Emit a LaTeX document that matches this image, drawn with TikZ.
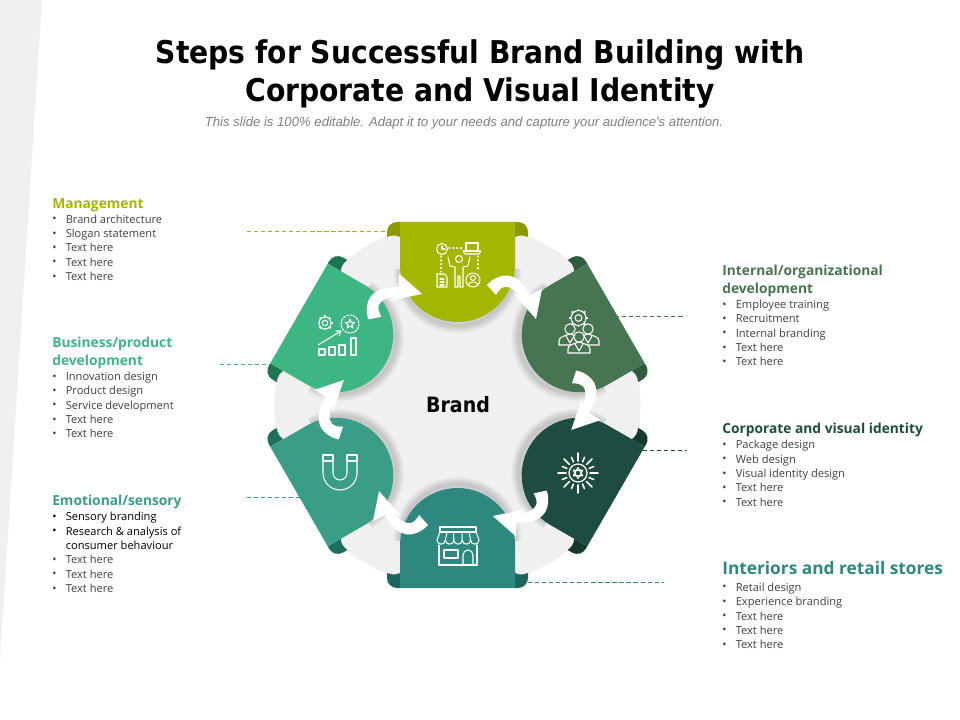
\documentclass[tikz,border=0pt]{standalone}
\usepackage{fontspec}
\setmainfont{Open Sans}
\newfontfamily\titlefont{DejaVu Sans Condensed Bold}
\newfontfamily\subfont{Liberation Sans}
\usetikzlibrary{positioning}
\definecolor{limeMain}{HTML}{A3B600}
\definecolor{limeDark}{HTML}{8A9A00}
\definecolor{greenMain}{HTML}{3DB683}
\definecolor{greenDark}{HTML}{1F7453}
\definecolor{seaMain}{HTML}{3A9E87}
\definecolor{seaDark}{HTML}{1F6F5C}
\definecolor{tealMain}{HTML}{2E8880}
\definecolor{tealDark}{HTML}{1D6660}
\definecolor{pineMain}{HTML}{1F4C40}
\definecolor{pineDark}{HTML}{16392F}
\definecolor{mossMain}{HTML}{477551}
\definecolor{mossDark}{HTML}{2F5B3D}
\definecolor{ringgray}{HTML}{F0F0F0}
\definecolor{bodygray}{HTML}{404040}
\newcommand{\bitem}[1]{\makebox[9.6pt][l]{\raisebox{.3pt}{\footnotesize\textbullet}}#1}
\newcommand{\gearicon}[3]{\begin{scope}[shift={(#1,#2)}]
\draw[iconline] (0,0) circle (#3);
\draw[iconline] (0,0) circle (#3*.45);
\foreach \a in {0,45,...,315}
\draw[iconline,line width=1.4pt,line cap=butt] (\a:#3) -- (\a:#3*1.25);
\end{scope}}
\newcommand{\personicon}[3]{\begin{scope}[shift={(#1,#2)}]
\draw[iconline,fill=#3] (-11,16) -- (-11,12) .. controls (-11,8) and (-6,7) .. (0,5) .. controls (6,7) and (11,8) .. (11,12) -- (11,16) -- cycle;
\draw[iconline,fill=#3] (0,0) circle (5.2);
\draw[iconline] (-4,7) -- (0,14) -- (4,7);
\end{scope}}
\tikzset{
iconline/.style={draw=white,line width=0.75pt,line cap=round,line join=round},
dotline/.style={iconline,dotted},
leadline/.style={dashed,line width=0.5pt,dash pattern=on 3pt off 2pt},
headtext/.style={anchor=north west,inner sep=0pt,align=left,font=\fontsize{9.8}{12.6}\selectfont\bfseries},
listtext/.style={anchor=north west,inner sep=0pt,align=left,text=bodygray,font=\fontsize{7.9}{10.2}\selectfont},
}
\begin{document}
\begin{tikzpicture}[x=0.025cm,y=-0.025cm]
\useasboundingbox (0,0) rectangle (960,720);
\fill[white] (0,0) rectangle (960,720);
\fill[ringgray] (0,0) -- (42,0) -- (0,660) -- cycle;
% title
\node[align=center,font=\fontsize{22.3}{27.6}\selectfont\titlefont] (title) at (480,74) {Steps for Successful Brand Building with\\Corporate and Visual Identity};
\node[font=\fontsize{9.35}{11}\selectfont\subfont\itshape,text=black!50] (subtitle) at (464,123) {This slide is 100\% editable. Adapt it to your needs and capture your audience's attention.};
% ring
\fill[ringgray] (457.5,405) circle (183);
% petals
\foreach \ang/\main/\dark in {0/limeMain/limeDark,-60/mossMain/mossDark,-120/pineMain/pineDark,180/tealMain/tealDark,120/seaMain/seaDark,60/greenMain/greenDark}{
\begin{scope}[rotate around={\ang:(457.5,405)}]
\foreach \w in {3,6,9,12,15}
\draw[black,opacity=.035,line width=\w*0.7pt] (514,269) arc (0:180:56.5);
\fill[\dark] (400,222) -- (397,222) arc (-90:-180:10) -- (387,237) .. controls (392,235) and (396,235) .. (400,237) -- cycle;
\fill[\dark] (515,222) -- (518,222) arc (-90:0:10) -- (528,237) .. controls (523,235) and (519,235) .. (515,237) -- cycle;
\fill[\main] (400,222) -- (515,222) -- (515,264.5) arc (0:180:57.5) -- cycle;
\end{scope}
}
% arrows
\foreach \ang in {0,-60,...,-300}{
\fill[white,rotate around={\ang:(457.5,405)}] (487,285) .. controls (493,278) and (503,274) .. (510,276) .. controls (519,278) and (525,286) .. (530,295) -- (542,289) -- (536,319) -- (513,293) -- (520,297) .. controls (515,289) and (509,286) .. (504,287) .. controls (501,288) and (498,291) .. (496,295) -- cycle;
}
\node[font=\fontsize{15}{18}\selectfont\titlefont] (brand) at (458,405) {Brand};
% top icon
\draw[iconline] (442,249) circle (5.5);
\draw[iconline] (442,246) -- (442,249) -- (445,249);
\draw[iconline] (466,243) rectangle (478,251);
\draw[iconline] (463,251) -- (481,251) -- (479,254) -- (465,254) -- cycle;
\draw[dotline] (449,248) -- (463,248);
\draw[dotline] (478,256) -- (478,270);
\draw[dotline] (441,256) -- (441,272);
\draw[iconline] (459,259) circle (3.5);
\draw[iconline] (448,257) -- (450,266) -- (455,267) -- (455,287) -- (458,287) -- (458,276) -- (460,276) -- (460,287) -- (463,287) -- (463,267) -- (468,266) -- (470,257);
\draw[iconline] (437,274) -- (444,274) -- (447,277) -- (447,287) -- (437,287) -- cycle;
\draw[iconline] (440,279) -- (444,279) (440,282) -- (444,282) (440,285) -- (444,285);
\draw[iconline] (473,280) circle (7);
\draw[iconline] (473,278) circle (2.5);
\draw[iconline] (468,285) .. controls (469,281) and (477,281) .. (478,285);
% people icon
\gearicon{578.5}{318}{7.5}
\personicon{570}{329}{mossMain}
\personicon{588}{329}{mossMain}
\personicon{579}{337}{mossMain}
% sun icon
\begin{scope}[shift={(578,473)}]
\draw[iconline,line width=.9pt] (0,0) circle (9);
\draw[iconline] (-90:5.5) -- (30:5.5) -- (150:5.5) -- cycle;
\draw[iconline] (90:5.5) -- (-30:5.5) -- (210:5.5) -- cycle;
\foreach \a in {0,45,...,315}
\draw[iconline,line width=1.1pt] (\a:12) -- (\a:20);
\foreach \a in {22.5,67.5,...,337.5}
\draw[iconline,line width=1.1pt] (\a:12) -- (\a:17);
\end{scope}
% shop icon
\draw[iconline] (440,527) rectangle (476,532);
\draw[iconline] (440,532) -- (437,540) (476,532) -- (479,540);
\foreach \x in {437,445.4,453.8,462.2,470.6}{
\draw[iconline] (\x,540) arc (180:0:4.2);
}
\foreach \x/\y in {445.4/447,453.8/453.5,462.2/462,470.6/469}{
\draw[iconline] (\x,540) -- (\y,532);
}
\draw[iconline] (439,545) -- (439,565) -- (477,565) -- (477,545);
\draw[iconline] (444,550) rectangle (458,558);
\draw[iconline] (463,565) -- (463,555) arc (180:360:5) -- (473,565);
% magnet icon
\draw[iconline] (323,455) rectangle (333,461);
\draw[iconline] (347,455) rectangle (357,461);
\draw[iconline] (323,461) -- (323,473) arc (180:0:17) -- (357,461);
\draw[iconline] (333,461) -- (333,473) arc (180:0:7) -- (347,461);
% chart icon
\gearicon{325}{323}{6}
\draw[iconline,dashed,dash pattern=on 1.5pt off 1pt] (350,324) circle (9);
\begin{scope}[shift={(350,324)}]
\draw[iconline] (-90:5) -- (-54:2) -- (-18:5) -- (18:2) -- (54:5) -- (90:2) -- (126:5) -- (162:2) -- (198:5) -- (234:2) -- cycle;
\end{scope}
\draw[iconline] (318,345) -- (341,331);
\draw[iconline] (336,331) -- (341,331) -- (339,336);
\draw[iconline] (319,349) rectangle (325,355);
\draw[iconline] (329,347) rectangle (335,355);
\draw[iconline] (339,345) rectangle (345,355);
\draw[iconline] (351,338) rectangle (356,355);
% lead lines
\coordinate (mgmtA) at (247,231);
\coordinate (mgmtB) at (387,231);
\coordinate (busA) at (220,364);
\coordinate (busB) at (270,364);
\coordinate (emoA) at (247,497);
\coordinate (emoB) at (300,497);
\coordinate (intA) at (615,316);
\coordinate (intB) at (684,316);
\coordinate (corpA) at (643,450);
\coordinate (corpB) at (687,450);
\coordinate (retA) at (528,582);
\coordinate (retB) at (664,582);
\draw[leadline,draw=limeMain] (mgmtA) -- (mgmtB);
\draw[leadline,draw=greenMain] (busA) -- (busB);
\draw[leadline,draw=seaMain] (emoA) -- (emoB);
\draw[leadline,draw=mossMain] (intA) -- (intB);
\draw[leadline,draw=pineMain] (corpA) -- (corpB);
\draw[leadline,draw=tealMain] (retA) -- (retB);
% left texts
\node[headtext,text=limeMain] (mgmt) at (52,198) {Management};
\node[listtext,below=2pt of mgmt.south west,anchor=north west] (mgmtlist) {\bitem{Brand architecture}\\\bitem{Slogan statement}\\\bitem{Text here}\\\bitem{Text here}\\\bitem{Text here}};
\node[headtext,text=greenMain] (bus) at (52,337) {Business/product\\development};
\node[listtext,below=2pt of bus.south west,anchor=north west] (buslist) {\bitem{Innovation design}\\\bitem{Product design}\\\bitem{Service development}\\\bitem{Text here}\\\bitem{Text here}};
\node[headtext,text=seaMain] (emo) at (52,495) {Emotional/sensory};
\node[listtext,below=2pt of emo.south west,anchor=north west] (emolist) {\textcolor{black}{\bitem{Sensory branding}}\\\textcolor{black}{\bitem{Research \& analysis of}}\\\hspace*{9.6pt}\textcolor{black}{consumer behaviour}\\\bitem{Text here}\\\bitem{Text here}\\\bitem{Text here}};
% right texts
\node[headtext,text=mossMain] (int) at (722,265) {Internal/organizational\\development};
\node[listtext,below=2pt of int.south west,anchor=north west] (intlist) {\bitem{Employee training}\\\bitem{Recruitment}\\\bitem{Internal branding}\\\bitem{Text here}\\\bitem{Text here}};
\node[headtext,text=pineMain] (corp) at (722,423) {Corporate and visual identity};
\node[listtext,below=2pt of corp.south west,anchor=north west] (corplist) {\bitem{Package design}\\\bitem{Web design}\\\bitem{Visual identity design}\\\bitem{Text here}\\\bitem{Text here}};
\node[headtext,text=tealMain,font=\fontsize{12.3}{15}\selectfont\bfseries] (ret) at (722,561) {Interiors and retail stores};
\node[listtext,below=5.5pt of ret.south west,anchor=north west] (retlist) {\bitem{Retail design}\\\bitem{Experience branding}\\\bitem{Text here}\\\bitem{Text here}\\\bitem{Text here}};
\end{tikzpicture}
\end{document}
